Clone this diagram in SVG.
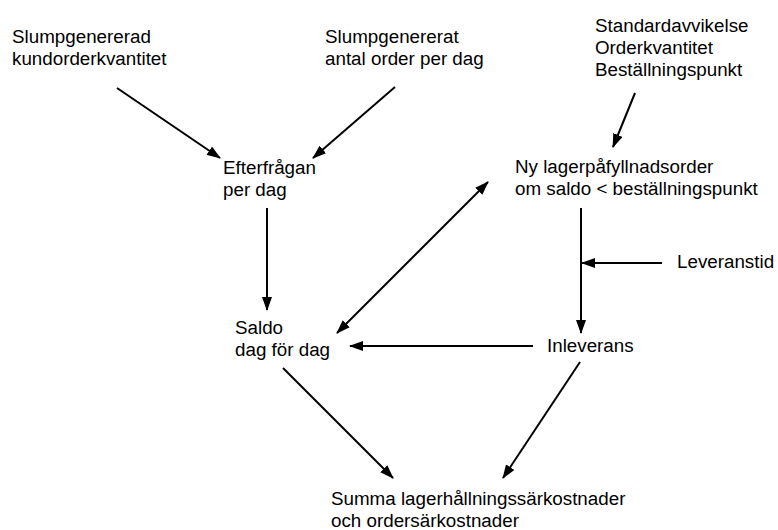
<svg xmlns="http://www.w3.org/2000/svg" width="778" height="530" viewBox="0 0 778 530">
<style>
text{font-family:"Liberation Sans",Arial,sans-serif;font-size:18.8px;fill:#000}
.c line{stroke:#000;stroke-width:2;fill:none;marker-end:url(#ah)}
</style>
<defs>
<marker id="ah" viewBox="0 0 14 10" refX="13" refY="5" markerWidth="14" markerHeight="10" markerUnits="userSpaceOnUse" orient="auto-start-reverse">
<path d="M0,0 L14,5 L0,10 Z" fill="#000"/>
</marker>
</defs>
<rect width="778" height="530" fill="#fff"/>
<g id="n_kund"><text x="12" y="43">Slumpgenererad</text><text x="12" y="65">kundorderkvantitet</text></g>
<g id="n_antal"><text x="325" y="43">Slumpgenererat</text><text x="325" y="65">antal order per dag</text></g>
<g id="n_std"><text x="595" y="32">Standardavvikelse</text><text x="595" y="54">Orderkvantitet</text><text x="595" y="76">Beställningspunkt</text></g>
<g id="n_eft"><text x="223" y="174">Efterfrågan</text><text x="223" y="196">per dag</text></g>
<g id="n_ny"><text x="515" y="173">Ny lagerpåfyllnadsorder</text><text x="515" y="195">om saldo &lt; beställningspunkt</text></g>
<g id="n_lev"><text x="677" y="268">Leveranstid</text></g>
<g id="n_saldo"><text x="235" y="334">Saldo</text><text x="235" y="356">dag för dag</text></g>
<g id="n_inl"><text x="547" y="352">Inleverans</text></g>
<g id="n_summa"><text x="331" y="505">Summa lagerhållningssärkostnader</text><text x="331" y="526.5">och ordersärkostnader</text></g>
<g id="connectors" class="c">
<line x1="117" y1="88" x2="220" y2="158"/>
<line x1="395" y1="87" x2="313" y2="158"/>
<line x1="635" y1="93" x2="613" y2="147"/>
<line x1="267" y1="208" x2="267" y2="310"/>
<line x1="337" y1="333" x2="488" y2="182" style="marker-start:url(#ah)"/>
<line x1="581" y1="208" x2="581" y2="333"/>
<line x1="662" y1="263" x2="582" y2="263"/>
<line x1="533" y1="346" x2="350" y2="346"/>
<line x1="283" y1="368" x2="393" y2="478"/>
<line x1="580" y1="362" x2="503" y2="478"/>
</g>
</svg>
